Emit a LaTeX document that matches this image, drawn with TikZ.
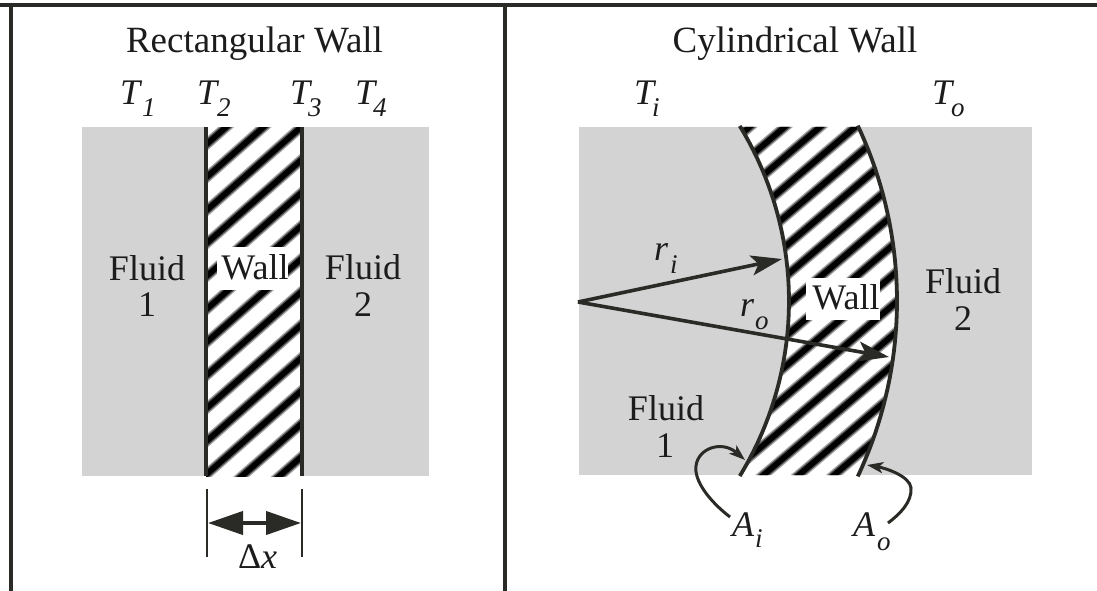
\documentclass[tikz,border=0pt]{standalone}
\usepackage{fontspec}
\setmainfont{Liberation Serif}
\usetikzlibrary{arrows.meta}
\definecolor{ink}{HTML}{2A2A26}
\definecolor{txt}{HTML}{1C1C1C}
\definecolor{fluidgrey}{HTML}{D4D3D4}
\newcommand{\bigtxt}{\fontsize{36}{36}\selectfont}
\newcommand{\titletxt}{\fontsize{37}{37}\selectfont}
\newcommand{\subtxt}{\fontsize{27}{27}\selectfont\itshape}
\newcommand{\stripe}[2]{%
  \draw[draw=black!35,line width=10.5pt] #1 -- #2;
  \draw[draw=black!70,line width=8pt] #1 -- #2;
  \draw[draw=black,line width=5.5pt] #1 -- #2;}
\tikzset{
  frameline/.style={draw=ink,line width=3.8pt},
  fluidbox/.style={fill=fluidgrey,draw=none},
  wallline/.style={draw=ink,line width=3.8pt},
  lbl/.style={anchor=base,inner sep=0pt,outer sep=0pt,text=txt,font=\bigtxt},
  ttl/.style={anchor=base,inner sep=0pt,outer sep=0pt,text=txt,font=\titletxt},
  lblw/.style={anchor=base west,inner sep=0pt,outer sep=0pt,text=txt,font=\bigtxt\itshape},
  subl/.style={anchor=base west,inner sep=0pt,outer sep=0pt,text=txt,font=\subtxt},
  radial/.style={draw=ink,line width=3.6pt,-{Stealth[length=31pt,width=20pt,inset=7pt]}},
  curved/.style={draw=ink,line width=3pt,-{Stealth[length=16pt,width=11pt,inset=4pt]}},
  tick/.style={draw=ink,line width=1.3pt},
  dim/.style={draw=ink,line width=4pt,{Triangle[length=35pt,width=23pt]}-{Triangle[length=35pt,width=23pt]}},
}
\begin{document}
\begin{tikzpicture}[x=1pt,y=-1pt]
\useasboundingbox (0,0) rectangle (1097,591);
\fill[white] (0,0) rectangle (1097,591);
% fluids
\path[fluidbox] (82,127.5) rectangle (429,476);
\path[fluidbox] (579,127.5) rectangle (1032,475);
% rectangular wall
\begin{scope}
\clip (206,127.5) rectangle (302,476);
\fill[white] (206,127.5) rectangle (302,476);
\foreach \k in {-1,...,16}{
  \stripe{(190,{110+33*\k+0.88*18})}{(320,{110+33*\k-0.88*112})}
}
\end{scope}
\fill[white] (217,247) rectangle (288,290);
\draw[wallline] (206,127.5) -- (206,476);
\draw[wallline] (302,127.5) -- (302,476);
% cylindrical wall
\begin{scope}
\clip plot[domain=-31.2:31.2,samples=40] ({453+336*cos(\x)},{301+336*sin(\x)}) -- plot[domain=25:-25,samples=40] ({485+412*cos(\x)},{301+412*sin(\x)}) -- cycle;
\fill[white] (720,120) rectangle (910,480);
\foreach \k in {-3,...,16}{
  \stripe{(700,{131+30*\k+0.85*80})}{(920,{131+30*\k-0.85*140})}
}
\end{scope}
\fill[white] (806,278) rectangle (880,320);
\draw[wallline] plot[domain=-31.4:31.4,samples=40] ({453+336*cos(\x)},{301+336*sin(\x)});
\draw[wallline] plot[domain=-25.2:25.2,samples=40] ({485+412*cos(\x)},{301+412*sin(\x)});
% frame
\draw[frameline] (0,5) -- (1097,5);
\draw[frameline] (11,3) -- (11,591);
\draw[frameline] (504.8,3) -- (504.8,591);
% titles
\node[ttl] (titleL) at (254.5,53) {Rectangular Wall};
\node[ttl] (titleR) at (795,53) {Cylindrical Wall};
% temperatures
\node[lblw] (t1) at (120,104.5) {T};
\node[subl] (t1s) at (142,117) {1};
\node[lblw] (t2) at (197,104.5) {T};
\node[subl] (t2s) at (217,117) {2};
\node[lblw] (t3) at (290,104.5) {T};
\node[subl] (t3s) at (308,117) {3};
\node[lblw] (t4) at (355,104.5) {T};
\node[subl] (t4s) at (373,117) {4};
\node[lblw] (ti) at (634,104.5) {T};
\node[subl] (tis) at (652,117) {i};
\node[lblw] (to) at (932,104.5) {T};
\node[subl] (tos) at (951,117) {o};
% left labels
\node[lbl] (f1a) at (147,280) {Fluid};
\node[lbl] (f1b) at (147,316) {1};
\node[lbl] (wa) at (255,279) {Wall};
\node[lbl] (f2a) at (363,279) {Fluid};
\node[lbl] (f2b) at (363,316) {2};
% right labels
\node[lbl] (wb) at (846,309) {Wall};
\node[lbl] (f3a) at (963,293) {Fluid};
\node[lbl] (f3b) at (963,330) {2};
\node[lbl] (f4a) at (666,420) {Fluid};
\node[lbl] (f4b) at (665,457) {1};
% radii
\node[lblw] (ri) at (654,260) {r};
\node[subl] (ris) at (670,273) {i};
\node[lblw] (ro) at (740,316) {r};
\node[subl] (ros) at (755,329) {o};
\coordinate (centre) at (578,302);
\coordinate (itip) at (782,259);
\coordinate (otip) at (889,357);
\draw[radial] (centre) -- (itip);
\draw[radial] (centre) -- (otip);
% area labels
\node[lblw] (ai) at (732,536) {A};
\node[subl] (ais) at (755,547) {i};
\node[lblw] (ao) at (853,536) {A};
\node[subl] (aos) at (877,550) {o};
\coordinate (ifrom) at (730,517);
\coordinate (ito) at (745,460);
\coordinate (ofrom) at (888,523);
\coordinate (oto) at (867,465);
\draw[curved] (ifrom) .. controls (708,500) and (694,480) .. (696,466) .. controls (698,448) and (722,440) .. (ito);
\draw[curved] (ofrom) .. controls (900,514) and (912,502) .. (911,488) .. controls (910,476) and (885,468) .. (oto);
% delta x
\coordinate (d1t) at (207,489);
\coordinate (d1b) at (207,557);
\coordinate (d2t) at (302,489);
\coordinate (d2b) at (302,557);
\draw[tick] (d1t) -- (d1b);
\draw[tick] (d2t) -- (d2b);
\coordinate (dl) at (208,523);
\coordinate (dr) at (301,523);
\draw[dim] (dl) -- (dr);
\node[lbl,anchor=base west] (dx) at (238,568) {\char"0394\textit{x}};
\end{tikzpicture}
\end{document}
